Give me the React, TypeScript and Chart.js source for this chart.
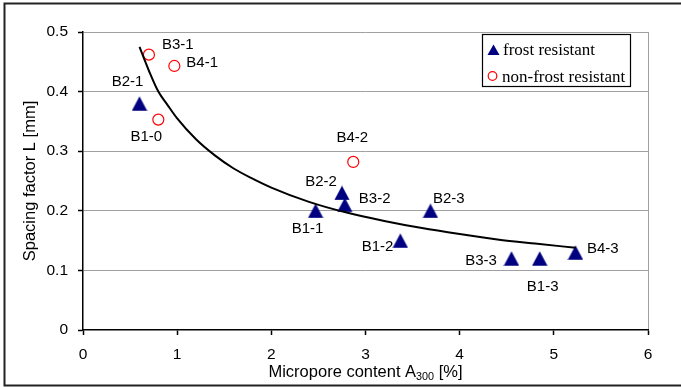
import React, { useEffect, useRef } from "react";
import { Chart, registerables } from "chart.js";

Chart.register(...registerables);

// ---- Data ----
const frostNames = ["B2-1", "B1-1", "B2-2", "B3-2", "B2-3", "B1-2", "B3-3", "B1-3", "B4-3"];
const frostX = [0.6, 2.47, 2.75, 2.78, 3.69, 3.37, 4.55, 4.85, 5.23];
const frostY = [0.38, 0.2, 0.23, 0.21, 0.2, 0.15, 0.12, 0.12, 0.13];

const nonFrostNames = ["B3-1", "B4-1", "B1-0", "B4-2"];
const nonFrostX = [0.7, 0.97, 0.8, 2.87];
const nonFrostY = [0.462, 0.443, 0.353, 0.282];

// trend curve
const trendX = [0.6, 0.7, 0.8, 0.9, 1.0, 1.2, 1.4, 1.6, 1.8, 2.0, 2.4, 2.8, 3.2, 3.6, 4.0, 4.4, 4.8, 5.23];
const trendY = [0.475, 0.435, 0.4, 0.377, 0.355, 0.32, 0.293, 0.271, 0.254, 0.239, 0.215, 0.197, 0.183, 0.171, 0.161, 0.152, 0.145, 0.138];

const xTickValues = [0, 1, 2, 3, 4, 5, 6];
const yTickValues = [0, 0.1, 0.2, 0.3, 0.4, 0.5];

const legendLabels = ["frost resistant", "non-frost resistant"];
const xTitleMain = "Micropore content A";
const xTitleSub = "300";
const xTitleEnd = " [%]";
const yTitle = "Spacing factor L [mm]";

// ---- label placement (offset from the point, alignment) ----
type Place = [number, number, CanvasTextAlign];
const frostPlace: Place[] = [
  [-12, -21.5, "center"],
  [-8, 18, "center"],
  [-5, -11, "right"],
  [14, -5.5, "left"],
  [2.5, -11.5, "left"],
  [-7, 6.5, "right"],
  [-14.5, 2.5, "right"],
  [3, 28.5, "center"],
  [11.5, -3.5, "left"],
];
const nonFrostPlace: Place[] = [
  [13, -9.5, "left"],
  [12, -3, "left"],
  [-12, 17.5, "center"],
  [-1, -24.5, "center"],
];

const SANS = "'Liberation Sans', Arial, sans-serif";
const SERIF = "'Liberation Serif', 'Times New Roman', serif";
const NAVY = "#000080";

function makeTriangle(w: number, h: number, color: string): HTMLCanvasElement {
  const c = document.createElement("canvas");
  c.width = w;
  c.height = h;
  const g = c.getContext("2d")!;
  g.fillStyle = color;
  g.beginPath();
  g.moveTo(w / 2, 0.3);
  g.lineTo(w - 0.3, h - 0.3);
  g.lineTo(0.3, h - 0.3);
  g.closePath();
  g.fill();
  return c;
}

const decorPlugin = {
  id: "decor",
  afterDatasetsDraw(chart: any) {
    const ctx: CanvasRenderingContext2D = chart.ctx;
    const area = chart.chartArea;
    ctx.save();

    // point labels
    ctx.fillStyle = "#000";
    ctx.font = `15px ${SANS}`;
    ctx.textBaseline = "middle";
    const drawLabels = (dsIndex: number, names: string[], place: Place[]) => {
      const meta = chart.getDatasetMeta(dsIndex);
      meta.data.forEach((el: any, i: number) => {
        const [dx, dy, align] = place[i];
        ctx.textAlign = align;
        ctx.fillText(names[i], el.x + dx, el.y + dy);
      });
    };
    drawLabels(1, frostNames, frostPlace);
    drawLabels(2, nonFrostNames, nonFrostPlace);

    // legend box
    const lx = 482.5, ly = 34.5, lw = 148, lh = 52;
    ctx.fillStyle = "#fff";
    ctx.fillRect(lx, ly, lw, lh);
    ctx.strokeStyle = "#000";
    ctx.lineWidth = 1.2;
    ctx.strokeRect(lx, ly, lw, lh);
    // triangle marker
    ctx.fillStyle = NAVY;
    ctx.beginPath();
    ctx.moveTo(493.5, 44.5);
    ctx.lineTo(499.5, 55);
    ctx.lineTo(487.5, 55);
    ctx.closePath();
    ctx.fill();
    // circle marker
    ctx.strokeStyle = "#ff0000";
    ctx.lineWidth = 1.2;
    ctx.beginPath();
    ctx.arc(492.5, 76, 4.3, 0, Math.PI * 2);
    ctx.stroke();
    ctx.fillStyle = "#000";
    ctx.font = `17px ${SERIF}`;
    ctx.textAlign = "left";
    ctx.textBaseline = "alphabetic";
    ctx.fillText(legendLabels[0], 503, 54.5);
    ctx.fillText(legendLabels[1], 502, 81.5);

    // x axis title with subscript
    const bigFont = `16.5px ${SANS}`;
    const smallFont = `10.8px ${SANS}`;
    ctx.font = bigFont;
    const w1 = ctx.measureText(xTitleMain).width;
    const w3 = ctx.measureText(xTitleEnd).width;
    ctx.font = smallFont;
    const w2 = ctx.measureText(xTitleSub).width;
    const total = w1 + w2 + w3;
    const x0 = (area.left + area.right) / 2 - total / 2;
    ctx.font = bigFont;
    ctx.fillText(xTitleMain, x0, 376.7);
    ctx.font = smallFont;
    ctx.fillText(xTitleSub, x0 + w1, 380);
    ctx.font = bigFont;
    ctx.fillText(xTitleEnd, x0 + w1 + w2, 376.7);

    // y axis title
    ctx.save();
    ctx.translate(30, (area.top + area.bottom) / 2);
    ctx.rotate(-Math.PI / 2);
    ctx.textAlign = "center";
    ctx.textBaseline = "middle";
    ctx.font = bigFont;
    ctx.fillText(yTitle, 0, 0);
    ctx.restore();

    // outer frame
    ctx.strokeStyle = "#222";
    ctx.lineWidth = 2;
    ctx.strokeRect(4.5, 3.5, 720, 382);

    ctx.restore();
  },
};

export default function App() {
  const ref = useRef<HTMLCanvasElement | null>(null);

  useEffect(() => {
    document.body.style.margin = "0";
    const canvas = ref.current;
    if (!canvas) return;
    const tri = makeTriangle(16, 15, NAVY);
    const chart = new Chart(canvas, {
      type: "scatter",
      data: {
        datasets: [
          {
            label: "trend",
            data: trendX.map((x, i) => ({ x, y: trendY[i] })),
            showLine: true,
            borderColor: "#000",
            borderWidth: 2,
            pointRadius: 0,
            cubicInterpolationMode: "monotone",
            order: 0,
          } as any,
          {
            label: legendLabels[0],
            data: frostX.map((x, i) => ({ x, y: frostY[i] })),
            pointStyle: tri,
            pointRadius: 8,
            backgroundColor: NAVY,
            borderColor: NAVY,
            borderWidth: 0,
            order: 1,
          },
          {
            label: legendLabels[1],
            data: nonFrostX.map((x, i) => ({ x, y: nonFrostY[i] })),
            pointStyle: "circle",
            pointRadius: 5.5,
            backgroundColor: "rgba(0,0,0,0)",
            borderColor: "#ff0000",
            borderWidth: 1.2,
            order: 2,
          },
        ],
      },
      options: {
        responsive: false,
        animation: false,
        devicePixelRatio: 1,
        layout: { padding: { top: 32, right: 33, left: 0, bottom: 0 } },
        plugins: { legend: { display: false }, tooltip: { enabled: false } },
        scales: {
          x: {
            type: "linear",
            min: xTickValues[0],
            max: xTickValues[xTickValues.length - 1],
            afterBuildTicks: (s: any) => {
              s.ticks = xTickValues.map((v) => ({ value: v }));
            },
            afterFit: (s: any) => {
              s.height = 57;
            },
            ticks: {
              color: "#000",
              font: { family: SANS, size: 15.5 },
              padding: 10,
            },
            grid: {
              color: (c: any) => (c.tick && c.tick.value === 6 ? "#a0a0a0" : "rgba(0,0,0,0)"),
              lineWidth: 1,
              tickColor: "#000",
              tickLength: 5,
              tickWidth: 1.5,
            },
            border: { color: "#000", width: 1.5 },
          },
          y: {
            type: "linear",
            min: yTickValues[0],
            max: yTickValues[yTickValues.length - 1],
            afterBuildTicks: (s: any) => {
              s.ticks = yTickValues.map((v) => ({ value: v }));
            },
            afterFit: (s: any) => {
              s.width = 83;
            },
            ticks: {
              color: "#000",
              font: { family: SANS, size: 15.5 },
              padding: 10,
              callback: (v: any) => String(Math.round(Number(v) * 10) / 10),
            },
            grid: {
              color: (c: any) => (c.tick && c.tick.value === 0 ? "rgba(0,0,0,0)" : "#a0a0a0"),
              lineWidth: 1,
              tickColor: "#000",
              tickLength: 5,
              tickWidth: 1.5,
            },
            border: { color: "#000", width: 1.5 },
          },
        },
      },
      plugins: [decorPlugin],
    });
    return () => chart.destroy();
  }, []);

  return (
    <canvas
      ref={ref}
      width={681}
      height={387}
      style={{ display: "block", width: 681, height: 387, background: "#fff" }}
    />
  );
}
